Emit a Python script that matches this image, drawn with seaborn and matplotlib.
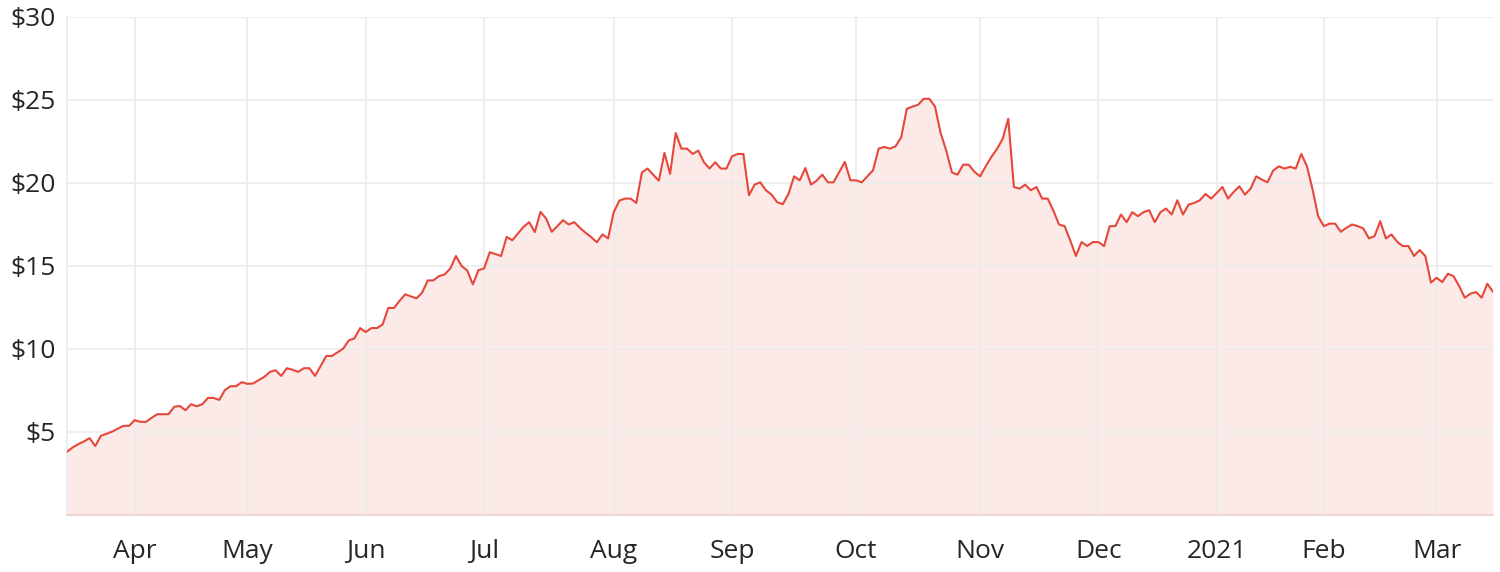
import pandas as pd
import numpy as np
import matplotlib
matplotlib.use('Agg')
import matplotlib.pyplot as plt
import seaborn as sns

# ASX trading days, 16 Mar 2020 - 15 Mar 2021
asx_holidays = ['2020-04-10', '2020-04-13', '2020-06-08', '2020-12-25',
                '2020-12-28', '2021-01-01', '2021-01-26']
start_date = '2020-03-16'
end_date = '2021-03-15'

# closing price, one per trading day
prices = [
    3.81, 4.07, 4.27, 4.43, 4.63, 4.15, 4.77, 4.89, 5.02, 5.20,
    5.37, 5.37, 5.71, 5.61, 5.61, 5.85, 6.07, 6.07, 6.07, 6.51,
    6.57, 6.31, 6.67, 6.55, 6.67, 7.05, 7.05, 6.93, 7.52, 7.76,
    7.76, 8.00, 7.90, 7.92, 8.12, 8.32, 8.62, 8.72, 8.38, 8.84,
    8.75, 8.62, 8.84, 8.84, 8.38, 8.98, 9.58, 9.58, 9.80, 10.02,
    10.52, 10.64, 11.26, 11.02, 11.26, 11.26, 11.48, 12.47, 12.47, 12.90,
    13.29, 13.17, 13.05, 13.39, 14.13, 14.13, 14.39, 14.49, 14.85, 15.60,
    15.00, 14.73, 13.89, 14.75, 14.85, 15.83, 15.72, 15.60, 16.75, 16.55,
    16.95, 17.36, 17.64, 17.04, 18.26, 17.86, 17.06, 17.40, 17.76, 17.50,
    17.64, 17.30, 17.00, 16.74, 16.43, 16.90, 16.66, 18.24, 18.94, 19.06,
    19.06, 18.80, 20.64, 20.87, 20.50, 20.14, 21.81, 20.55, 23.01, 22.07,
    22.07, 21.75, 21.95, 21.25, 20.87, 21.25, 20.87, 20.87, 21.61, 21.75,
    21.75, 19.26, 19.90, 20.04, 19.56, 19.30, 18.84, 18.72, 19.34, 20.40,
    20.16, 20.90, 19.90, 20.14, 20.50, 20.04, 20.04, 20.65, 21.27, 20.16,
    20.16, 20.04, 20.40, 20.76, 22.07, 22.17, 22.07, 22.21, 22.75, 24.47,
    24.60, 24.71, 25.07, 25.07, 24.61, 23.01, 21.95, 20.64, 20.50, 21.10,
    21.10, 20.67, 20.40, 21.00, 21.57, 22.05, 22.65, 23.87, 19.76, 19.66,
    19.90, 19.56, 19.76, 19.06, 19.06, 18.34, 17.50, 17.40, 16.54, 15.60,
    16.44, 16.20, 16.44, 16.44, 16.20, 17.40, 17.40, 18.10, 17.64, 18.24,
    18.00, 18.24, 18.36, 17.64, 18.24, 18.46, 18.10, 18.96, 18.10, 18.70,
    18.80, 18.96, 19.34, 19.06, 19.40, 19.76, 19.06, 19.46, 19.80, 19.30,
    19.66, 20.40, 20.20, 20.04, 20.75, 21.00, 20.87, 20.97, 20.87, 21.75,
    21.00, 19.60, 17.98, 17.40, 17.55, 17.55, 17.06, 17.30, 17.50, 17.40,
    17.26, 16.66, 16.80, 17.70, 16.66, 16.90, 16.46, 16.20, 16.20, 15.60,
    15.96, 15.60, 14.00, 14.29, 14.03, 14.53, 14.39, 13.79, 13.09, 13.33,
    13.43, 13.09, 13.93, 13.45,
]

y_ticks = [5, 10, 15, 20, 25, 30]
y_labels = ['$5', '$10', '$15', '$20', '$25', '$30']

bday = pd.offsets.CustomBusinessDay(holidays=asx_holidays)
dates = pd.date_range(start_date, end_date, freq=bday)
df = pd.DataFrame({'date': dates[:len(prices)], 'price': prices})
df['idx'] = np.arange(len(df))

# month ticks at the first trading day of each month
first = df.groupby(df['date'].dt.to_period('M'))['idx'].min().iloc[1:]
month_pos = first.values
month_lab = [str(p.year) if p.month == 1 else p.strftime('%b') for p in first.index]

sns.set_theme(style='white')
plt.rcParams['font.family'] = ['Open Sans', 'DejaVu Sans']

line_col = '#e5483a'
grid_col = '#ebebeb'

fig = plt.figure(figsize=(15, 5.72), dpi=100)
ax = fig.add_axes([0.0447, 0.0997, 0.9506, 0.8706])

ax.fill_between(df['idx'], df['price'], 0, color=line_col, alpha=0.11, lw=0, zorder=1)
sns.lineplot(data=df, x='idx', y='price', color=line_col, lw=1.5, ax=ax, zorder=3)

ax.set_xlim(0, len(df) - 1)
ax.set_ylim(0, 30)
ax.set_yticks(y_ticks)
ax.set_yticklabels(y_labels)
ax.set_xticks(month_pos)
ax.set_xticklabels(month_lab)
ax.tick_params(axis='y', length=0, pad=8, labelsize=19, labelcolor='#262626')
ax.tick_params(axis='x', length=0, pad=17, labelsize=19, labelcolor='#262626')
ax.set_xlabel('')
ax.set_ylabel('')

ax.grid(True, color=grid_col, lw=1.2, zorder=2)
ax.set_axisbelow(False)
for s in ['top', 'right']:
    ax.spines[s].set_visible(False)
ax.spines['left'].set_color(grid_col)
ax.spines['left'].set_linewidth(1.2)
ax.spines['bottom'].set_color('#f0cfca')
ax.spines['bottom'].set_linewidth(1.2)

fig.savefig('out.png', dpi=100)
